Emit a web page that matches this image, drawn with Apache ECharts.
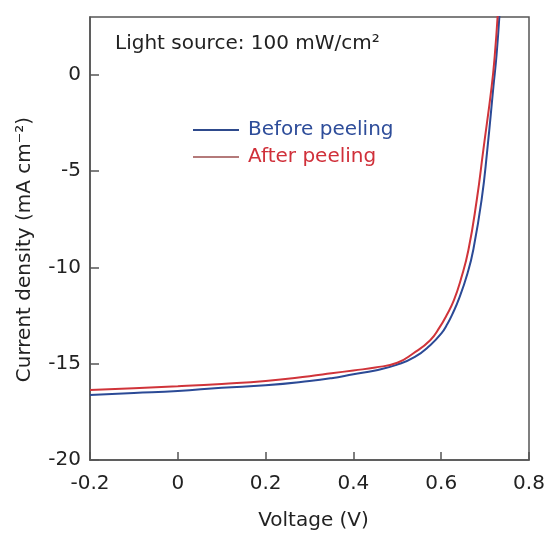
<!DOCTYPE html>
<html>
<head>
<meta charset="utf-8">
<script src="https://cdn.jsdelivr.net/npm/echarts@6/dist/echarts.min.js"></script>
<style>
  html, body { margin: 0; padding: 0; background: #fff; }
  #chart { width: 550px; height: 536px; }
</style>
</head>
<body>
<div id="chart"></div>
<script>
// J-V curves, [voltage (V), current density (mA cm^-2)]
const beforePeeling = [
    [-0.2, -16.62], [-0.1, -16.52], [0.0, -16.42], [0.1, -16.25], [0.2, -16.12],
    [0.3, -15.9], [0.35, -15.75], [0.4, -15.55], [0.45, -15.35], [0.5, -15.05],
    [0.54, -14.65], [0.575, -14.04], [0.6, -13.44], [0.615, -12.9], [0.625, -12.45],
    [0.641, -11.6], [0.66, -10.3], [0.673, -9.1], [0.692, -6.5], [0.705, -3.9],
    [0.719, -0.6], [0.726, 1.0], [0.733, 3.2]
];
const afterPeeling = [
    [-0.2, -16.37], [-0.1, -16.27], [0.0, -16.17], [0.1, -16.05], [0.2, -15.9],
    [0.3, -15.65], [0.35, -15.5], [0.4, -15.35], [0.45, -15.2], [0.5, -14.95],
    [0.536, -14.47], [0.575, -13.78], [0.597, -13.09], [0.612, -12.5], [0.629, -11.7],
    [0.645, -10.6], [0.662, -9.1], [0.681, -6.5], [0.696, -3.9], [0.715, -0.6],
    [0.722, 1.0], [0.729, 3.2]
];
const seriesNames = ['Before peeling', 'After peeling'];

var myChart = echarts.init(document.getElementById('chart'));
var font = 'DejaVu Sans, sans-serif';
var option = {
    animation: false,
    title: {
        text: 'Light source: 100 mW/cm\u00b2',
        left: 115,
        top: 34,
        padding: 0,
        textStyle: {
            fontFamily: font,
            fontSize: 20,
            fontWeight: 'normal',
            color: '#222'
        }
    },
    legend: {
        orient: 'vertical',
        left: 193,
        top: 120,
        padding: 0,
        itemWidth: 46,
        itemHeight: 2,
        itemGap: 7,
        icon: 'rect',
        data: [
            {name: seriesNames[0], itemStyle: {color: '#2e4a8c'}, textStyle: {color: '#2e4d9a'}},
            {name: seriesNames[1], itemStyle: {color: '#b47a7a'}, textStyle: {color: '#d0303a'}}
        ],
        textStyle: {
            fontFamily: font,
            fontSize: 20,
            padding: [0, 0, 0, 4]
        }
    },
    grid: {
        left: 90,
        right: 21,
        top: 17,
        bottom: 76,
        show: true,
        borderColor: '#555',
        borderWidth: 1.5
    },
    xAxis: {
        type: 'value',
        min: -0.2,
        max: 0.8,
        interval: 0.2,
        name: 'Voltage (V)',
        nameLocation: 'middle',
        nameGap: 51,
        nameTextStyle: {fontFamily: font, fontSize: 20, color: '#222', padding: [0, 0, 0, 8]},
        splitLine: {show: false},
        axisLine: {onZero: false, lineStyle: {color: '#555', width: 1.5}},
        axisTick: {inside: true, length: 8, lineStyle: {color: '#555', width: 1.5}},
        axisLabel: {
            fontFamily: font,
            fontSize: 20,
            color: '#222',
            margin: 14,
            formatter: function (v) { return +v.toFixed(1) + ''; }
        }
    },
    yAxis: {
        type: 'value',
        min: -20,
        max: 3,
        interval: 5,
        name: 'Current density (mA cm\u207b\u00b2)',
        nameLocation: 'middle',
        nameGap: 55,
        nameTextStyle: {fontFamily: font, fontSize: 20, color: '#222', padding: [0, 22, 0, 0]},
        splitLine: {show: false},
        axisLine: {onZero: false, lineStyle: {color: '#555', width: 1.5}},
        axisTick: {inside: true, length: 9, lineStyle: {color: '#555', width: 1.5}},
        axisLabel: {
            fontFamily: font,
            fontSize: 20,
            color: '#222',
            margin: 9,
            showMaxLabel: false
        }
    },
    series: [
        {
            name: seriesNames[0],
            type: 'line',
            smooth: true,
            symbol: 'none',
            lineStyle: {color: '#2b4a96', width: 2},
            itemStyle: {color: '#2b4a96'},
            data: beforePeeling
        },
        {
            name: seriesNames[1],
            type: 'line',
            smooth: true,
            symbol: 'none',
            lineStyle: {color: '#d0343a', width: 2},
            itemStyle: {color: '#d0343a'},
            data: afterPeeling
        }
    ]
};
myChart.setOption(option);
</script>
</body>
</html>
